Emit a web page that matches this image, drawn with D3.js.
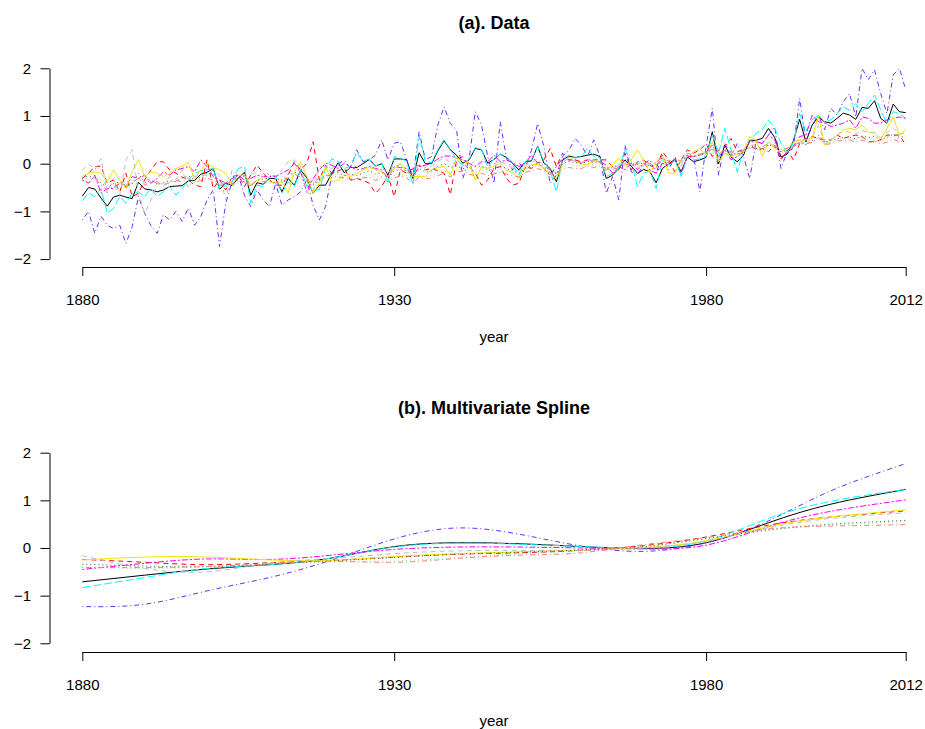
<!DOCTYPE html>
<html>
<head>
<meta charset="utf-8">
<script src="https://cdn.jsdelivr.net/npm/d3@7"></script>
<style>
  body { margin: 0; background: #fff; }
  svg { display: block; }
  text { font-family: "Liberation Sans", Arial, Helvetica, sans-serif; }
</style>
</head>
<body>
<svg id="chart" width="925" height="729"></svg>
<script>
// years 1880..2012, one value per year
const firstYear = 1880;
const xTicks = [1880, 1930, 1980, 2012];
const yTicks = [-2, -1, 0, 1, 2];

const obsBlack = [
  -0.68, -0.50, -0.53, -0.72, -0.89, -0.70, -0.66, -0.70, -0.73, -0.39,
  -0.53, -0.55, -0.59, -0.55, -0.48, -0.47, -0.46, -0.36, -0.35, -0.22,
  -0.18, -0.10, -0.54, -0.40, -0.46, -0.30, -0.18, -0.66, -0.40, -0.43,
  -0.31, -0.31, -0.59, -0.31, -0.45, -0.13, -0.30, -0.62, -0.45, -0.45,
  -0.20, 0.02, -0.19, -0.08, -0.08, 0.00, 0.09, -0.05, 0.00, -0.24,
  0.10, 0.10, 0.08, -0.31, 0.23, 0.00, 0.00, 0.27, 0.48, 0.29,
  0.18, 0.01, 0.08, 0.32, 0.29, 0.01, 0.09, 0.20, 0.13, 0.01,
  -0.13, 0.04, 0.06, 0.37, 0.01, -0.10, -0.38, 0.08, 0.16, 0.13,
  0.15, 0.18, 0.20, 0.15, -0.31, -0.24, -0.10, 0.08, -0.05, -0.20,
  -0.12, -0.17, -0.40, -0.10, 0.00, 0.09, -0.17, 0.14, 0.04, 0.08,
  0.13, 0.67, 0.00, 0.39, 0.14, 0.04, 0.18, 0.49, 0.49, 0.53,
  0.74, 0.55, 0.14, 0.20, 0.48, 0.93, 0.46, 0.81, 0.98, 0.88,
  0.85, 0.95, 1.06, 1.02, 0.93, 1.18, 1.16, 1.32, 0.95, 0.85,
  1.25, 1.09, 1.07
];
const obsRed = [
  -0.31, -0.20, -0.06, -0.05, -0.41, -0.34, -0.59, -0.20, -0.69, -0.62,
  -0.34, -0.13, 0.04, 0.04, -0.13, -0.20, -0.28, -0.34, -0.45, -0.48,
  0.08, -0.52, -0.34, -0.55, -0.27, -0.24, -0.48, -0.24, -0.03, -0.20,
  -0.34, -0.45, -0.45, -0.24, 0.04, -0.13, 0.01, 0.46, -0.34, -0.03,
  -0.20, -0.15, -0.10, -0.34, -0.31, -0.35, -0.41, -0.62, -0.48, -0.24,
  -0.69, -0.13, -0.20, -0.10, -0.03, -0.13, -0.10, -0.15, -0.20, -0.65,
  0.08, 0.15, -0.06, -0.20, -0.45, -0.34, -0.10, -0.06, -0.31, -0.45,
  -0.41, -0.06, -0.10, 0.01, 0.08, 0.32, -0.06, 0.22, 0.08, 0.08,
  0.04, 0.08, 0.08, 0.08, 0.08, -0.06, -0.13, 0.22, -0.13, 0.04,
  0.08, -0.03, -0.10, 0.25, 0.08, -0.17, 0.08, 0.29, 0.22, 0.29,
  0.42, 0.15, 0.29, 0.36, 0.53, 0.25, 0.30, 0.42, 0.29, 0.32,
  0.25, 0.39, 0.08, 0.29, 0.08, 0.42, 0.53, 0.57, 0.53, 0.50,
  0.50, 0.60, 0.53, 0.57, 0.60, 0.57, 0.46, 0.46, 0.50, 0.60,
  0.60, 0.60, 0.39
];
const obsGreen = [
  -0.35, -0.30, -0.28, -0.35, -0.45, -0.42, -0.40, -0.45, -0.40, -0.30,
  -0.42, -0.38, -0.40, -0.42, -0.38, -0.35, -0.30, -0.28, -0.38, -0.32,
  -0.25, -0.30, -0.40, -0.45, -0.48, -0.38, -0.32, -0.45, -0.40, -0.42,
  -0.38, -0.38, -0.35, -0.32, -0.25, -0.22, -0.32, -0.42, -0.38, -0.28,
  -0.28, -0.25, -0.30, -0.30, -0.32, -0.28, -0.22, -0.28, -0.27, -0.35,
  -0.25, -0.22, -0.25, -0.35, -0.25, -0.28, -0.25, -0.18, -0.15, -0.20,
  -0.12, -0.10, -0.15, -0.18, -0.12, -0.18, -0.15, -0.12, -0.15, -0.18,
  -0.22, -0.12, -0.08, -0.02, -0.10, -0.12, -0.20, -0.05, 0.00, -0.03,
  -0.05, 0.00, -0.02, 0.02, -0.10, -0.08, -0.03, 0.00, -0.02, 0.02,
  0.05, -0.02, 0.00, 0.10, 0.02, 0.05, 0.02, 0.15, 0.12, 0.15,
  0.20, 0.25, 0.18, 0.25, 0.22, 0.20, 0.25, 0.32, 0.30, 0.30,
  0.38, 0.35, 0.28, 0.30, 0.35, 0.42, 0.40, 0.45, 0.55, 0.42,
  0.45, 0.50, 0.52, 0.52, 0.50, 0.55, 0.52, 0.55, 0.48, 0.52,
  0.58, 0.52, 0.55
];
const obsBlue = [
  -1.18, -1.00, -1.46, -1.10, -1.29, -1.36, -1.29, -1.67, -1.32, -0.69,
  -1.04, -1.30, -1.46, -1.07, -1.18, -1.00, -1.21, -0.93, -1.29, -1.11,
  -0.76, -0.55, -1.74, -0.83, -0.38, -0.24, -0.66, -0.90, -0.55, -0.76,
  -0.90, -0.41, -0.87, -0.76, -0.69, -0.59, -0.34, -0.87, -1.18, -0.90,
  -0.24, 0.00, 0.07, -0.10, 0.29, 0.04, 0.08, 0.18, 0.50, 0.08,
  0.43, 0.46, 0.08, -0.27, 0.67, 0.08, 0.15, 0.81, 1.19, 0.84,
  0.71, -0.31, 0.08, 1.09, 0.81, 0.15, -0.41, 0.88, 0.11, -0.13,
  0.01, -0.10, 0.28, 0.84, 0.36, -0.41, -0.24, 0.15, 0.28, 0.53,
  0.39, 0.15, 0.50, 0.15, -0.62, -0.27, -0.76, 0.39, -0.17, -0.24,
  0.00, 0.08, -0.20, 0.18, -0.13, 0.15, -0.24, 0.15, 0.15, -0.59,
  0.36, 1.16, -0.24, 0.42, 0.15, 0.42, 0.15, -0.31, 0.46, 0.42,
  0.60, 0.77, -0.10, 0.25, 0.32, 1.37, 0.46, 0.81, 1.02, 0.71,
  1.16, 1.02, 1.30, 1.47, 0.98, 2.00, 1.76, 1.97, 1.47, 1.05,
  1.86, 2.00, 1.55
];
const obsCyan = [
  -0.78, -0.61, -0.69, -0.52, -1.04, -0.94, -0.69, -0.83, -0.62, -0.59,
  -0.69, -0.52, -0.69, -0.59, -0.48, -0.66, -0.52, -0.35, -0.20, -0.15,
  -0.13, -0.10, -0.55, -0.45, -0.38, -0.10, -0.06, -0.83, -0.45, -0.48,
  -0.27, -0.24, -0.62, -0.38, -0.48, -0.13, -0.48, -0.55, -0.55, -0.10,
  0.10, 0.05, -0.10, -0.05, 0.23, 0.05, 0.10, -0.05, 0.02, -0.41,
  0.15, 0.12, 0.05, -0.45, 0.58, 0.05, 0.02, 0.30, 0.50, 0.30,
  0.08, -0.02, 0.10, 0.34, 0.30, -0.06, 0.10, 0.20, 0.15, -0.02,
  -0.24, 0.05, 0.08, 0.36, 0.05, -0.15, -0.59, 0.10, 0.18, 0.12,
  0.15, 0.32, 0.15, 0.12, -0.27, -0.20, -0.10, 0.29, 0.05, -0.48,
  -0.20, -0.15, -0.52, 0.08, -0.06, 0.08, -0.27, 0.18, 0.08, 0.10,
  0.15, 0.60, 0.22, 0.74, 0.29, -0.17, 0.29, 0.45, 0.64, 0.70,
  0.92, 0.75, 0.43, 0.25, 0.43, 1.05, 0.67, 0.92, 1.02, 0.88,
  0.92, 1.05, 1.19, 1.12, 1.26, 1.09, 1.26, 1.44, 1.12, 0.85,
  1.09, 1.05, 0.95
];
const obsMagenta = [
  -0.34, -0.41, -0.24, -0.62, -0.52, -0.52, -0.41, -0.48, -0.27, -0.31,
  -0.24, -0.41, -0.31, -0.17, -0.24, -0.13, -0.10, -0.06, -0.17, 0.08,
  -0.06, -0.27, -0.34, -0.41, -0.31, -0.24, -0.34, -0.31, -0.24, -0.27,
  -0.27, -0.27, -0.20, -0.13, 0.01, -0.17, -0.59, -0.31, -0.13, 0.01,
  -0.03, -0.10, 0.01, -0.06, -0.13, -0.10, -0.06, -0.10, -0.13, -0.31,
  -0.06, -0.08, -0.10, -0.27, -0.06, -0.03, 0.01, 0.10, 0.16, 0.16,
  0.12, 0.08, 0.01, -0.06, 0.04, 0.04, 0.18, 0.04, 0.08, 0.02,
  -0.06, 0.01, 0.18, 0.01, -0.10, -0.24, -0.06, 0.11, 0.08, 0.08,
  0.01, 0.08, 0.06, 0.04, -0.03, -0.20, -0.06, -0.13, 0.01, -0.13,
  0.01, -0.13, -0.20, 0.01, -0.03, 0.08, -0.17, 0.15, 0.15, 0.18,
  0.25, 0.39, 0.15, 0.29, 0.08, 0.15, 0.25, 0.46, 0.46, 0.43,
  0.60, 0.50, 0.11, 0.25, 0.36, 0.57, 0.60, 1.02, 0.88, 0.85,
  0.78, 0.81, 0.85, 0.92, 0.74, 0.98, 0.95, 0.85, 0.85, 0.92,
  0.95, 0.98, 0.95
];
const obsYellow = [
  -0.26, -0.20, -0.17, -0.20, -0.38, -0.13, -0.34, -0.52, -0.17, 0.09,
  -0.27, -0.17, -0.20, -0.27, -0.20, -0.10, -0.05, 0.02, -0.31, -0.13,
  0.01, -0.08, -0.13, -0.20, -0.45, -0.24, -0.24, -0.45, -0.35, -0.27,
  -0.38, -0.41, -0.38, -0.61, -0.17, 0.04, -0.27, -0.62, -0.41, -0.06,
  -0.38, -0.34, -0.24, -0.27, -0.20, -0.13, -0.08, -0.12, -0.17, -0.27,
  -0.10, 0.01, -0.17, -0.27, -0.27, -0.27, -0.13, -0.08, -0.06, -0.24,
  0.13, 0.05, 0.01, -0.34, -0.06, -0.10, -0.05, 0.01, -0.13, -0.20,
  -0.31, -0.06, -0.03, 0.00, -0.10, -0.20, -0.31, 0.00, 0.14, 0.04,
  0.00, -0.03, 0.08, 0.02, -0.13, -0.02, 0.11, -0.06, 0.08, 0.29,
  0.08, -0.20, 0.04, 0.15, -0.20, -0.20, 0.08, 0.15, 0.25, 0.32,
  0.18, 0.46, 0.04, 0.22, 0.15, 0.20, 0.25, 0.57, 0.50, 0.15,
  0.46, 0.32, 0.25, 0.32, 0.45, 0.50, 0.50, 0.53, 1.02, 0.39,
  0.50, 0.60, 0.71, 0.74, 0.71, 0.81, 0.67, 0.64, 0.50, 0.74,
  0.98, 0.60, 0.71
];
const obsGray = [
  -0.14, 0.00, -0.13, 0.11, -0.62, -0.31, -0.66, 0.08, 0.29, -0.62,
  -1.04, -0.76, -0.41, -0.48, -0.27, -0.34, -0.13, -0.52, -0.27, -0.24,
  -0.24, -0.13, -0.24, -0.76, -0.13, -0.24, -0.27, -0.20, -0.20, -0.13,
  -0.24, -0.31, -0.13, 0.04, 0.08, -0.06, -0.62, -0.59, -0.06, -0.06,
  -0.10, -0.03, -0.13, -0.10, -0.05, -0.12, -0.02, -0.15, -0.08, -0.20,
  -0.05, -0.02, -0.10, -0.22, 0.00, -0.08, -0.05, 0.05, 0.12, 0.02,
  0.00, -0.05, -0.02, 0.05, 0.00, -0.10, 0.00, 0.05, -0.02, -0.08,
  -0.15, -0.03, 0.02, 0.10, -0.05, -0.12, -0.20, 0.05, 0.10, 0.05,
  0.02, 0.08, 0.05, 0.02, -0.12, -0.10, -0.03, 0.05, -0.02, -0.08,
  0.00, -0.05, -0.10, 0.10, 0.00, 0.05, -0.05, 0.20, 0.15, 0.18,
  0.22, 0.35, 0.12, 0.30, 0.18, 0.15, 0.22, 0.38, 0.40, 0.30,
  0.45, 0.38, 0.20, 0.25, 0.35, 0.48, 0.42, 0.55, 0.80, 0.45,
  0.50, 0.60, 0.68, 0.66, 0.62, 0.70, 0.65, 0.66, 0.55, 0.65,
  0.75, 0.62, 0.65
];
const obsDark = [
  -0.30, -0.25, -0.30, -0.40, -0.50, -0.42, -0.38, -0.45, -0.42, -0.20,
  -0.40, -0.35, -0.42, -0.40, -0.35, -0.38, -0.30, -0.25, -0.35, -0.28,
  -0.20, -0.22, -0.45, -0.42, -0.45, -0.30, -0.25, -0.48, -0.35, -0.32,
  -0.30, -0.32, -0.35, -0.22, -0.20, -0.10, -0.30, -0.45, -0.35, -0.25,
  -0.20, -0.18, -0.25, -0.22, -0.25, -0.20, -0.15, -0.22, -0.18, -0.30,
  -0.15, -0.12, -0.15, -0.30, -0.10, -0.18, -0.15, -0.05, 0.00, -0.08,
  -0.05, -0.10, -0.08, -0.05, -0.05, -0.15, -0.10, -0.05, -0.10, -0.15,
  -0.20, -0.10, -0.05, 0.05, -0.08, -0.12, -0.22, 0.00, 0.05, 0.02,
  0.00, 0.05, 0.02, 0.05, -0.12, -0.08, -0.02, 0.05, 0.00, -0.02,
  0.02, -0.05, -0.02, 0.12, 0.02, 0.05, 0.00, 0.18, 0.15, 0.18,
  0.22, 0.30, 0.15, 0.28, 0.22, 0.20, 0.25, 0.35, 0.32, 0.30,
  0.40, 0.35, 0.25, 0.28, 0.35, 0.45, 0.40, 0.48, 0.60, 0.45,
  0.48, 0.52, 0.55, 0.55, 0.52, 0.58, 0.55, 0.58, 0.50, 0.55,
  0.62, 0.55, 0.58
];
const obsSalmon = [
  -0.35, -0.40, -0.30, -0.45, -0.55, -0.48, -0.42, -0.50, -0.40, -0.30,
  -0.45, -0.40, -0.38, -0.45, -0.40, -0.35, -0.38, -0.30, -0.40, -0.35,
  -0.30, -0.35, -0.45, -0.48, -0.42, -0.35, -0.38, -0.45, -0.35, -0.38,
  -0.35, -0.40, -0.38, -0.30, -0.22, -0.28, -0.35, -0.40, -0.30, -0.25,
  -0.25, -0.28, -0.30, -0.35, -0.32, -0.30, -0.28, -0.35, -0.30, -0.38,
  -0.30, -0.25, -0.30, -0.40, -0.28, -0.32, -0.30, -0.25, -0.20, -0.28,
  -0.18, -0.15, -0.22, -0.25, -0.20, -0.25, -0.22, -0.18, -0.22, -0.25,
  -0.28, -0.18, -0.15, -0.10, -0.15, -0.18, -0.25, -0.10, -0.08, -0.10,
  -0.10, -0.05, -0.08, -0.05, -0.15, -0.12, -0.08, 0.00, -0.05, 0.00,
  0.05, 0.00, 0.02, 0.15, 0.05, 0.08, 0.05, 0.22, 0.18, 0.20,
  0.25, 0.30, 0.20, 0.30, 0.25, 0.22, 0.28, 0.35, 0.32, 0.35,
  0.42, 0.38, 0.30, 0.32, 0.38, 0.45, 0.42, 0.45, 0.55, 0.40,
  0.42, 0.48, 0.48, 0.50, 0.45, 0.50, 0.45, 0.48, 0.42, 0.45,
  0.52, 0.45, 0.48
];

// spline panel: fitted values at these years
const splineYears = [1880, 1890, 1900, 1910, 1920, 1930, 1940, 1950, 1960, 1970, 1980, 1990, 2000, 2012];
const splBlack   = [-0.71, -0.57, -0.44, -0.35, -0.21, 0.03, 0.11, 0.09, 0.03, -0.01, 0.11, 0.53, 0.92, 1.23];
const splRed     = [-0.24, -0.30, -0.35, -0.31, -0.26, -0.19, -0.13, -0.10, -0.05, 0.05, 0.23, 0.48, 0.65, 0.78];
const splGreen   = [-0.39, -0.43, -0.39, -0.33, -0.29, -0.27, -0.20, -0.12, -0.06, 0.03, 0.19, 0.37, 0.48, 0.55];
const splBlue    = [-1.23, -1.18, -0.90, -0.62, -0.25, 0.19, 0.42, 0.29, 0.04, -0.07, 0.11, 0.57, 1.20, 1.77];
const splCyan    = [-0.83, -0.62, -0.43, -0.35, -0.21, 0.02, 0.10, 0.08, 0.03, 0.00, 0.15, 0.62, 0.98, 1.23];
const splMagenta = [-0.45, -0.32, -0.23, -0.24, -0.15, -0.03, 0.02, 0.02, 0.00, -0.02, 0.06, 0.45, 0.77, 1.01];
const splYellow  = [-0.25, -0.19, -0.19, -0.25, -0.26, -0.18, -0.12, -0.08, -0.04, 0.01, 0.15, 0.45, 0.65, 0.80];
const splGray    = [-0.16, -0.43, -0.50, -0.32, -0.22, -0.12, -0.06, -0.05, -0.05, 0.00, 0.14, 0.42, 0.62, 0.74];
const splDark    = [-0.34, -0.38, -0.39, -0.34, -0.27, -0.20, -0.13, -0.09, -0.04, 0.03, 0.20, 0.38, 0.50, 0.58];
const splSalmon  = [-0.41, -0.41, -0.39, -0.33, -0.28, -0.30, -0.22, -0.15, -0.10, 0.07, 0.22, 0.40, 0.46, 0.49];

// line styles, in drawing order
const styles = [
  { color: "#000000", dash: null },
  { color: "#ff0000", dash: "5,4" },
  { color: "#8fe08f", dash: "1,3" },
  { color: "#6a2cff", dash: "1,3,5,3" },
  { color: "#00ffff", dash: "8,3" },
  { color: "#ff00ff", dash: "2,2,6,2" },
  { color: "#f4e400", dash: null },
  { color: "#bebebe", dash: "5,4" },
  { color: "#3d5e3d", dash: "1,3" },
  { color: "#fa8072", dash: "1,3,5,3" }
];

const obsSeries = [obsBlack, obsRed, obsGreen, obsBlue, obsCyan, obsMagenta, obsYellow, obsGray, obsDark, obsSalmon];
const splSeries = [splBlack, splRed, splGreen, splBlue, splCyan, splMagenta, splYellow, splGray, splDark, splSalmon];

const svg = d3.select("#chart");

const x = d3.scaleLinear().domain([1880, 2012]).range([82.3, 905.7]);

const panels = [
  { title: "(a). Data", titleY: 23, yTop: 68.3, yBottom: 259.1, axisY: 267, yearY: 337,
    rows: obsSeries.map(s => s.map((v, i) => [firstYear + i, v])), curve: d3.curveLinear },
  { title: "(b). Multivariate Spline", titleY: 408, yTop: 452.7, yBottom: 643.3, axisY: 652, yearY: 721,
    rows: splSeries.map(s => s.map((v, i) => [splineYears[i], v])), curve: d3.curveNatural }
];

panels.forEach(p => {
  const y = d3.scaleLinear().domain([-2, 2]).range([p.yBottom, p.yTop]);
  const g = svg.append("g");

  const line = d3.line()
    .x(d => x(d[0]))
    .y(d => y(d[1]))
    .curve(p.curve);

  g.selectAll("path.series")
    .data(p.rows)
    .enter()
    .append("path")
    .attr("class", "series")
    .attr("fill", "none")
    .attr("stroke", (d, i) => styles[i].color)
    .attr("stroke-width", 1)
    .attr("stroke-dasharray", (d, i) => styles[i].dash)
    .attr("d", line);

  // x axis
  const xa = g.append("g")
    .attr("transform", `translate(0,${p.axisY})`)
    .call(d3.axisBottom(x).tickValues(xTicks).tickFormat(d3.format("d"))
      .tickSize(9).tickSizeOuter(0).tickPadding(18));

  // y axis
  const ya = g.append("g")
    .attr("transform", "translate(49.5,0)")
    .call(d3.axisLeft(y).tickValues(yTicks).tickFormat(d3.format("d"))
      .tickSize(9).tickSizeOuter(0).tickPadding(9.5));

  [xa, ya].forEach(a => {
    a.select(".domain").attr("stroke", "#000");
    a.selectAll(".tick line").attr("stroke", "#000");
    a.selectAll("text").attr("font-size", 15).attr("fill", "#000")
      .style("font-family", '"Liberation Sans", Arial, sans-serif');
  });

  g.append("text")
    .attr("x", 494)
    .attr("y", p.titleY)
    .attr("dy", "0.35em")
    .attr("text-anchor", "middle")
    .attr("font-size", 18)
    .attr("font-weight", "bold")
    .text(p.title);

  g.append("text")
    .attr("x", 494)
    .attr("y", p.yearY)
    .attr("dy", "0.3em")
    .attr("text-anchor", "middle")
    .attr("font-size", 15)
    .text("year");
});
</script>
</body>
</html>
